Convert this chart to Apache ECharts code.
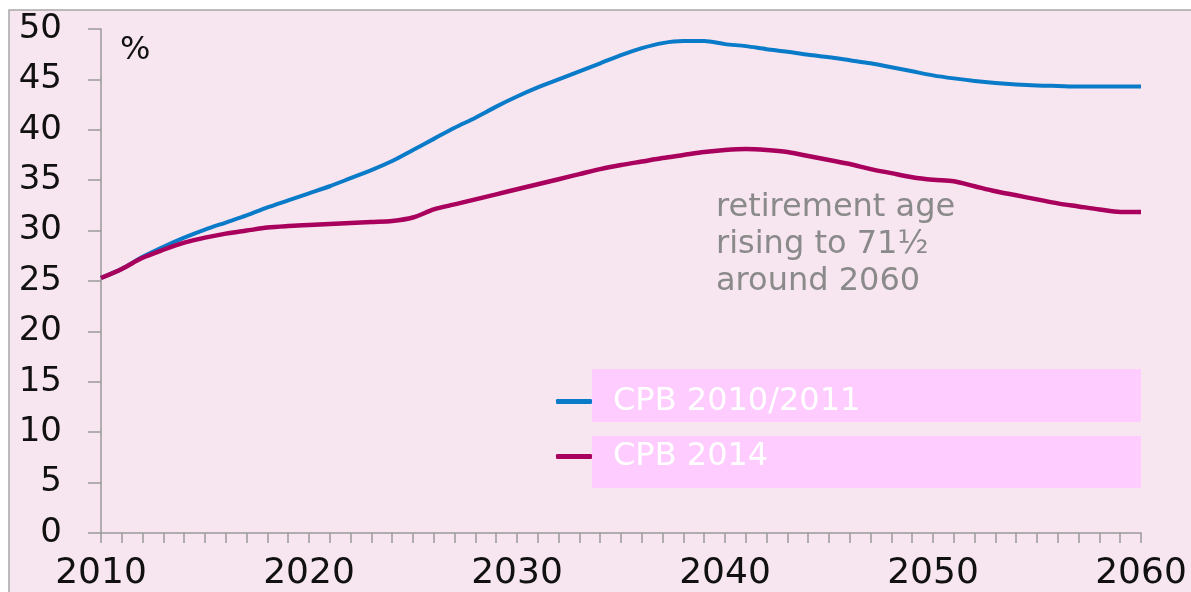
<!DOCTYPE html>
<html>
<head>
<meta charset="utf-8">
<script src="https://cdn.jsdelivr.net/npm/echarts@6/dist/echarts.min.js"></script>
<style>
html,body{margin:0;padding:0;background:#fff;}
#chart{width:1191px;height:592px;}
</style>
</head>
<body>
<div id="chart"></div>
<script>
const years = [];
for (let y = 2010; y <= 2060; y++) years.push(y);

const cpb2010 = [25.3,26.2,27.4,28.4,29.3,30.1,30.8,31.5,32.3,33.0,
  33.7,34.4,35.2,36.0,36.9,38.0,39.1,40.2,41.2,42.3,
  43.3,44.2,45.0,45.8,46.6,47.4,48.1,48.6,48.8,48.8,
  48.5,48.3,48.0,47.75,47.45,47.2,46.9,46.6,46.2,45.8,
  45.4,45.1,44.85,44.65,44.5,44.4,44.35,44.3,44.3,44.3,44.3];

const cpb2014 = [25.3,26.2,27.3,28.1,28.8,29.3,29.7,30.0,30.3,30.45,
  30.55,30.65,30.75,30.85,30.95,31.3,32.1,32.6,33.1,33.6,
  34.1,34.6,35.1,35.6,36.1,36.5,36.85,37.2,37.5,37.8,
  38.0,38.1,38.0,37.8,37.4,37.0,36.6,36.1,35.7,35.3,
  35.05,34.9,34.4,33.9,33.5,33.1,32.7,32.4,32.1,31.85,31.85];

const seriesNames = ['CPB 2010/2011', 'CPB 2014'];
const yTicks = [0,5,10,15,20,25,30,35,40,45,50];
const xTicks = [2010,2020,2030,2040,2050,2060];
const unitLabel = '%';
const noteLines = ['retirement age', 'rising to 71½', 'around 2060'];

const chart = echarts.init(document.getElementById('chart'));
const axisGray = '#9a9a9a';
const font = 'DejaVu Sans, Verdana, sans-serif';

chart.setOption({
  animation: false,
  backgroundColor: '#ffffff',
  textStyle: { fontFamily: font },
  grid: { left: 101, right: 50, top: 29, bottom: 58, containLabel: false },
  xAxis: {
    type: 'value',
    min: xTicks[0], max: xTicks[xTicks.length - 1], interval: 10,
    axisLine: { show: true, lineStyle: { color: axisGray, width: 1.5 } },
    axisTick: { show: true, inside: false, length: 10, lineStyle: { color: axisGray, width: 1.5 } },
    minorTick: { show: true, splitNumber: 10, length: 10, lineStyle: { color: axisGray, width: 1.5 } },
    splitLine: { show: false },
    axisLabel: { fontSize: 36, color: '#111111', margin: 23, fontFamily: font,
      formatter: v => String(v) }
  },
  yAxis: {
    type: 'value', min: yTicks[0], max: yTicks[yTicks.length - 1], interval: 5,
    axisLine: { show: true, lineStyle: { color: axisGray, width: 1.5 } },
    axisTick: { show: true, inside: false, length: 13, lineStyle: { color: axisGray, width: 1.5 } },
    splitLine: { show: false },
    axisLabel: { fontSize: 34, color: '#111111', margin: 39, fontFamily: font }
  },
  legend: {
    orient: 'vertical',
    left: 556, top: 381, padding: 0,
    icon: 'roundRect',
    itemWidth: 36, itemHeight: 5, itemGap: 14,
    data: seriesNames,
    textStyle: { color: '#ffffff', fontSize: 32, lineHeight: 41, padding: [0,0,0,16], fontFamily: font }
  },
  graphic: [
    { type: 'rect', z: -10, silent: true,
      shape: { x: 9, y: 10, width: 1300, height: 700 },
      style: { fill: '#F7E5EF', stroke: '#a8a8a8', lineWidth: 1.5 } },
    { type: 'rect', z: -5, silent: true,
      shape: { x: 592, y: 369, width: 549, height: 53 },
      style: { fill: '#FFCCFF' } },
    { type: 'rect', z: -5, silent: true,
      shape: { x: 592, y: 436, width: 549, height: 52 },
      style: { fill: '#FFCCFF' } },
    { type: 'text', left: 120, top: 35, silent: true,
      style: { text: unitLabel, fontSize: 32, fill: '#111111', fontFamily: font } },
    { type: 'text', left: 716, top: 189, silent: true,
      style: { text: noteLines.join('\n'), fontSize: 32, lineHeight: 37, fill: '#8a8a8a', fontFamily: font } }
  ],
  series: [
    { name: seriesNames[0], type: 'line', smooth: 0.3, symbol: 'none',
      data: years.map((y, i) => [y, cpb2010[i]]),
      lineStyle: { color: '#0A7BC8', width: 4 }, itemStyle: { color: '#0A7BC8' } },
    { name: seriesNames[1], type: 'line', smooth: 0.3, symbol: 'none',
      data: years.map((y, i) => [y, cpb2014[i]]),
      lineStyle: { color: '#A8005C', width: 4.5 }, itemStyle: { color: '#A8005C' } }
  ]
});
</script>
</body>
</html>
